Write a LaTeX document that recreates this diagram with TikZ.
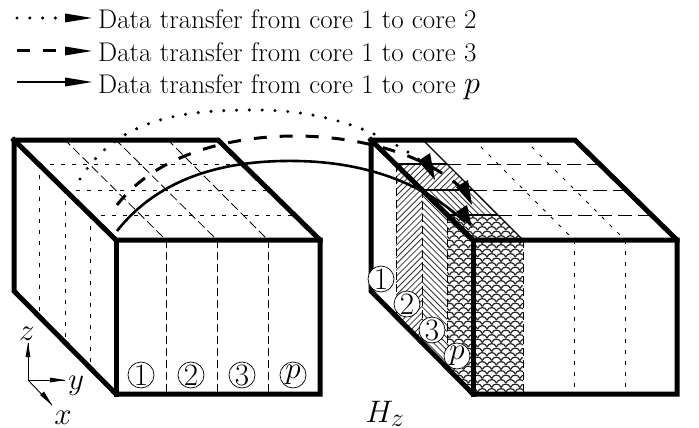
\documentclass[tikz,border=0pt]{standalone}
\usetikzlibrary{calc}
\newcommand{\bigc}[1]{\scalebox{1.25}{#1}}
\tikzset{
  thickedge/.style={line width=5pt,line join=miter,line cap=rect,draw=black},
  medge/.style={line width=1.3pt,draw=black},
  longdash/.style={line width=0.8pt,dash pattern=on 9pt off 4pt},
  sparsedash/.style={line width=0.8pt,dash pattern=on 3.5pt off 7.5pt},
  hdash/.style={line width=0.9pt,dash pattern=on 14pt off 6pt},
  frontdash/.style={line width=0.9pt,dash pattern=on 8pt off 4pt},
  hatchline/.style={line width=0.8pt,draw=black!80},
  scaleline/.style={line width=1.2pt,draw=black!85},
  arcline/.style={line width=2.6pt},
  dotarc/.style={line width=3.4pt,line cap=round,dash pattern=on 0pt off 12.8pt},
  dasharc/.style={line width=3pt,dash pattern=on 13pt off 13pt},
  tiphead/.style={fill=black,draw=none},
  core/.style={circle,draw=black,line width=0.7pt,fill=white,minimum size=26pt,inner sep=0pt,font=\fontsize{24.88}{26}\selectfont},
  legend/.style={anchor=base west,inner sep=0pt,font=\fontsize{27}{32}\selectfont},
  mlabel/.style={inner sep=0pt,scale=1.25,font=\fontsize{24.88}{30}\selectfont}
}
\begin{document}
\begin{tikzpicture}[x=1pt,y=-1pt]
\useasboundingbox (0,0) rectangle (699,428);

% --- hatching on right box
\begin{scope}
  \clip (396,164)--(447,164)--(473,190)--(422,190)--(422,342)--(396,316)--cycle;
  \foreach \k in {0,...,45} \draw[hatchline] ({390+\k*6.2},140)--({390+\k*6.2-240},380);
\end{scope}
\begin{scope}
  \clip (422,190)--(473,190)--(498,215)--(447,215)--(447,367)--(422,342)--cycle;
  \foreach \k in {0,...,45} \draw[hatchline] ({190+\k*6.2},180)--({190+\k*6.2+200},380);
\end{scope}
\begin{scope}
  \clip (447,215)--(498,215)--(523,240)--(523,394)--(472,394)--(447,367)--cycle;
  \foreach \r in {0,...,41}{
    \pgfmathsetmacro{\off}{mod(\r,2)*4.7}
    \foreach \c in {0,...,9}{
      \pgfmathsetmacro{\xx}{440+\c*9.4+\off}
      \pgfmathsetmacro{\yy}{212+\r*4.5}
      \draw[scaleline] (\xx,\yy) .. controls ({\xx+1.5},{\yy-4.5}) and ({\xx+7.9},{\yy-4.5}) .. ({\xx+9.4},\yy);
    }
  }
\end{scope}

% --- left box inner lines
\foreach \a/\b in {64/166,115/217,167/268}
  \draw[longdash] (\a,139)--(\b,240);
\foreach \x in {166,217,268}
  \draw[frontdash] (\x,240)--(\x,394);
\foreach \a/\y in {39/164,65/190,90/215}{
  \draw[sparsedash] (\a,\y)--({\a+204},\y);
  \draw[sparsedash] (\a,\y)--(\a,{\y+152});
}
% --- right box inner lines
\foreach \a/\b in {473/574,524/625}
  \draw[sparsedash] (\a,139)--(\b,240);
\foreach \x in {574,625}
  \draw[sparsedash] (\x,240)--(\x,394);
\draw[frontdash] (523,240)--(523,394);
\foreach \a/\y in {447/164,473/190,498/215}
  \draw[hdash] (\a,\y)--({\a+153},\y);
\foreach \a/\y in {396/164,422/190,447/215}
  \draw[frontdash] (\a,\y)--(\a,{\y+152});
% hatch boundary
\draw[medge] (422,139)--(523,240);
\draw[line width=2.4pt] (397,164)--(447,164);
\draw[line width=2.4pt] (422,190)--(473,190);
\draw[line width=2.4pt] (447,215)--(498,215);

% --- thick box outlines
\foreach \d in {0,357}{
  \begin{scope}[xshift=\d pt]
  \draw[thickedge] (14,140)--(218,140)--(320,240)--(320,394)--(116,394)--(14,291)--cycle;
  \draw[thickedge] (14,140)--(116,240)--(320,240);
  \draw[thickedge] (116,240)--(116,394);
  \end{scope}
}

% --- transfer arcs
\coordinate (dotS) at (80,179);
\coordinate (dotE) at (433,170);
\coordinate (dashS) at (117,205);
\coordinate (dashE) at (465,192);
\coordinate (solS) at (117,231);
\coordinate (solE) at (465,222);
\draw[dotarc] (dotS) .. controls (120,115) and (190,110) .. (257,110) .. controls (330,110) and (390,135) .. (dotE);
\draw[dasharc] (dashS) .. controls (160,150) and (240,136) .. (295,136) .. controls (360,136) and (430,155) .. (dashE);
\draw[arcline] (solS) .. controls (165,170) and (240,160) .. (297,161) .. controls (360,162) and (420,180) .. (solE);
\fill[tiphead] (435,180)--(418,161)--(430,153)--cycle;
\fill[tiphead] (472,205)--(456,187)--(468,180)--cycle;
\fill[tiphead] (472,228)--(456,212)--(467,205)--cycle;

% --- circled cores
\foreach \n/\x/\t in {a/141/1,b/191/2,c/242/3}
  \node[core] (f\n) at (\x,375) {\bigc{\t}};
\node[core] (fp) at (293,375) {\bigc{$p$}};
\node[core] (r1) at (381,279) {\bigc{1}};
\node[core] (r2) at (407,304) {\bigc{2}};
\node[core] (r3) at (432,330) {\bigc{3}};
\node[core] (rp) at (457,356) {\bigc{$p$}};

% --- axes
\coordinate (O) at (28,380);
\node[mlabel] (lz) at (27,334) {$z$};
\node[mlabel] (ly) at (76,386) {$y$};
\node[mlabel] (lx) at (63,418) {$x$};
\coordinate (zt) at (28,343);
\coordinate (yt) at (65,380);
\coordinate (xt) at (52,405);
\draw[line width=0.9pt] (O)--(zt);
\draw[line width=0.9pt] (O)--(yt);
\draw[line width=0.9pt] (O)--(xt);
\fill (zt)--(25.5,357)--(30.5,357)--cycle;
\fill (yt)--(50,377.5)--(50,382.5)--cycle;
\fill (xt)--(40,395)--(44,391.5)--cycle;
\node[mlabel] (hz) at (385,414) {$H_z$};

% --- legend
\foreach \y/\st/\n in {18/dotarc/1,51/dasharc/2,82/arcline/3}{
  \coordinate (ls\n) at (17,\y);
  \coordinate (le\n) at (92,\y);
  \draw[\st] (ls\n)--(70,\y);
  \fill (le\n)--(65,{\y-4.5})--(65,{\y+4.5})--cycle;
}
\node[legend] (t1) at (98,29) {Data transfer from core 1 to core 2};
\node[legend] (t2) at (98,62) {Data transfer from core 1 to core 3};
\node[legend] (t3) at (98,94) {Data transfer from core 1 to core \scalebox{1.3}{$p$}};
\end{tikzpicture}
\end{document}
